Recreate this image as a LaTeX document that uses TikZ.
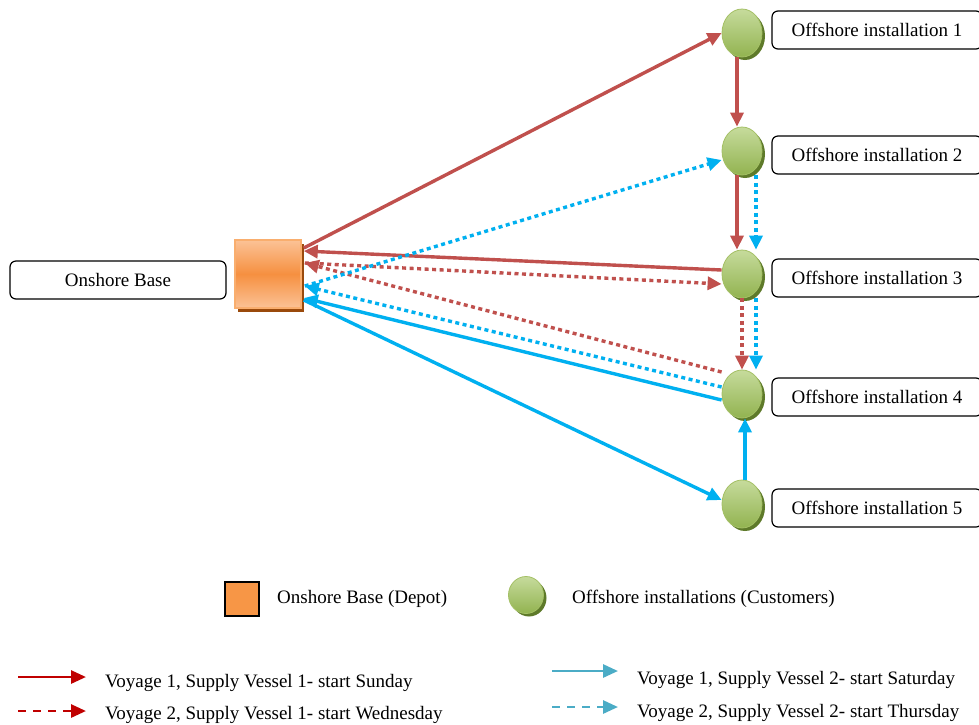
\documentclass[tikz,border=0pt]{standalone}
\usepackage{fontspec}
\setmainfont{Liberation Serif}
\usetikzlibrary{shapes.geometric,arrows.meta,shadows}
\definecolor{vred}{HTML}{C0504D}
\definecolor{vblue}{HTML}{00B0F0}
\definecolor{legred}{HTML}{C00000}
\definecolor{legblue}{HTML}{4BACC6}
\definecolor{sitetop}{HTML}{C6DB9C}
\definecolor{sitebot}{HTML}{92B350}
\definecolor{siteborder}{HTML}{A4C065}
\definecolor{siteshadow}{HTML}{5E7A2A}
\definecolor{depotorange}{HTML}{F79646}
\definecolor{depotlight}{HTML}{FBC296}
\definecolor{depotmid}{HTML}{F69040}
\definecolor{depotborder}{HTML}{F9AE6E}
\definecolor{depotshadow}{HTML}{9A4A0C}
\begin{document}
\begin{tikzpicture}[x=1pt,y=-1pt,
  every node/.style={font=\fontsize{19}{23}\selectfont},
  lbox/.style={draw=black, line width=1.2pt, rounded corners=6pt, minimum width=210pt, minimum height=38pt, inner sep=0pt, fill=white},
  site/.style={ellipse, minimum width=40pt, minimum height=48pt, inner sep=0pt, draw=siteborder, line width=0.8pt, top color=sitetop, bottom color=sitebot, general shadow={fill=siteshadow, shadow xshift=3pt, shadow yshift=-3pt}},
  depotbox/.style={rectangle, minimum width=66pt, minimum height=68pt, inner sep=0pt, draw=depotborder, line width=1.5pt, top color=depotlight, bottom color=depotlight, middle color=depotmid, general shadow={fill=depotshadow, shadow xshift=3pt, shadow yshift=-4pt}},
  rsolid/.style={draw=vred, line width=3.4pt, -{Triangle[length=14pt,width=13pt]}},
  rdot/.style={rsolid, dash pattern=on 4pt off 3.5pt},
  bsolid/.style={draw=vblue, line width=3.4pt, -{Triangle[length=14pt,width=13pt]}},
  bdot/.style={bsolid, dash pattern=on 4pt off 3.5pt},
  legr/.style={draw=legred, line width=2.8pt, -{Triangle[length=15pt,width=13pt]}},
  legb/.style={draw=legblue, line width=2.8pt, -{Triangle[length=15pt,width=13pt]}},
  txt/.style={anchor=base west, inner sep=0pt}
]
\useasboundingbox (0,0) rectangle (979,724);
\fill[white] (0,0) rectangle (979,724);

% nodes
\node[depotbox] (d) at (268,274) {};
\node[site] (o1) at (742,33) {};
\node[site] (o2) at (742,151) {};
\node[site] (o3) at (742,274) {};
\node[site] (o4) at (742,394) {};
\node[site] (o5) at (742,504) {};
\node[lbox] (l1) at (877,30) {Offshore installation 1};
\node[lbox] (l2) at (877,155) {Offshore installation 2};
\node[lbox] (l3) at (877,278) {Offshore installation 3};
\node[lbox] (l4) at (877,397) {Offshore installation 4};
\node[lbox] (l5) at (877,508) {Offshore installation 5};
\node[lbox, minimum width=216pt] (ob) at (118,280) {Onshore Base};

% vessel 1 voyage 1
\draw[rsolid] ([xshift=2pt,yshift=26pt]d.east) -- (o1.west);
\draw[rsolid] ([xshift=-5pt]o1.south) -- ([xshift=-5pt]o2.north);
\draw[rsolid] ([xshift=-5pt]o2.south) -- ([xshift=-5pt]o3.north);
\draw[rsolid] ([yshift=4pt]o3.west) -- ([xshift=2pt,yshift=23pt]d.east);
% vessel 1 voyage 2
\draw[rdot] ([xshift=3pt,yshift=11pt]d.east) -- ([yshift=-10pt]o3.west);
\draw[rdot] (o3.south) -- (o4.north);
\draw[rdot] ([yshift=22pt]o4.west) -- ([xshift=3pt,yshift=11pt]d.east);
% vessel 2 voyage 2
\draw[bdot] ([xshift=3pt,yshift=-12pt]d.east) -- ([yshift=-9pt]o2.west);
\draw[bdot] ([xshift=14pt]o2.south) -- ([xshift=14pt]o3.north);
\draw[bdot] ([xshift=14pt]o3.south) -- ([xshift=14pt]o4.north);
\draw[bdot] ([yshift=7pt]o4.west) -- ([xshift=3pt,yshift=-12pt]d.east);
% vessel 2 voyage 1
\draw[bsolid] ([xshift=2pt,yshift=-26pt]d.east) -- ([yshift=4pt]o5.west);
\draw[bsolid] ([xshift=3pt]o5.north) -- ([xshift=3pt]o4.south);
\draw[bsolid] ([yshift=-6pt]o4.west) -- ([xshift=2pt,yshift=-24pt]d.east);

% legend
\node[draw=black, line width=1.5pt, fill=depotorange, minimum size=34pt, inner sep=0pt] (lsq) at (242,599) {};
\node[anchor=west, inner sep=0pt] (lt1) at (277,599) {Onshore Base (Depot)};
\node[site, minimum width=35pt, minimum height=37pt] (lci) at (526,595) {};
\node[anchor=west, inner sep=0pt] (lt2) at (572,599) {Offshore installations (Customers)};

\coordinate (a1) at (18,677); \coordinate (a2) at (86,677);
\draw[legr] (a1) -- (a2);
\node[txt] (t1) at (105,687) {Voyage 1, Supply Vessel 1- start Sunday};
\coordinate (a3) at (18,711); \coordinate (a4) at (86,711);
\draw[legr, dash pattern=on 8pt off 7pt] (a3) -- (a4);
\node[txt] (t2) at (105,719) {Voyage 2, Supply Vessel 1- start Wednesday};

\coordinate (b1) at (552,671); \coordinate (b2) at (618,671);
\draw[legb] (b1) -- (b2);
\node[txt] (t3) at (637,684) {Voyage 1, Supply Vessel 2- start Saturday};
\coordinate (b3) at (552,707); \coordinate (b4) at (618,707);
\draw[legb, dash pattern=on 8pt off 7pt] (b3) -- (b4);
\node[txt] (t4) at (637,717) {Voyage 2, Supply Vessel 2- start Thursday};
\end{tikzpicture}
\end{document}
